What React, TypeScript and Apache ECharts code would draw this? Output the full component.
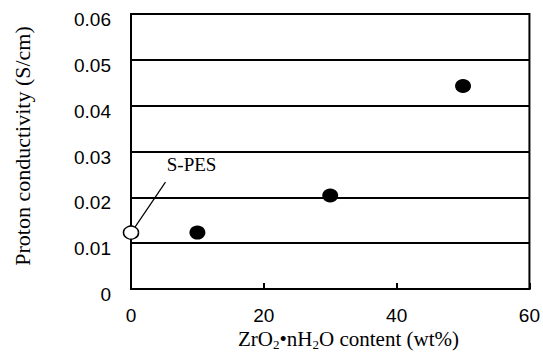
import React, { useEffect, useRef } from "react";
import * as echarts from "echarts";

const spesPoint: number[][] = [[0, 0.0123]];
const compositePoints: number[][] = [
  [10, 0.0123],
  [30, 0.0204],
  [50, 0.0443],
];
const leaderLine: number[][] = [
  [0.6, 0.0135],
  [5.19, 0.0233],
];
const labelPoint: number[][] = [[5.39, 0.0272]];
const labelText = "S-PES";
const yTicks = [0, 0.01, 0.02, 0.03, 0.04, 0.05, 0.06];
const xTicks = [0, 20, 40, 60];

export default function App() {
  const ref = useRef<HTMLDivElement>(null);
  useEffect(() => {
    if (!ref.current) return;
    const chart = echarts.init(ref.current, undefined, { renderer: "svg" });
    const serif = "'Liberation Serif', 'Times New Roman', serif";
    const sans = "'Liberation Sans', Arial, sans-serif";
    chart.setOption({
      animation: false,
      backgroundColor: "#fff",
      grid: {
        left: 131,
        top: 14,
        right: 11,
        bottom: 67,
        show: true,
        borderColor: "#000",
        borderWidth: 2,
      },
      xAxis: {
        type: "value",
        min: xTicks[0],
        max: xTicks[xTicks.length - 1],
        interval: 20,
        axisLine: { show: true, lineStyle: { color: "#000", width: 2 } },
        axisTick: { show: true, inside: true, length: 6, lineStyle: { color: "#000", width: 2 } },
        splitLine: { show: false },
        axisLabel: { color: "#000", fontFamily: sans, fontSize: 19, margin: 17 },
      },
      yAxis: {
        type: "value",
        min: yTicks[0],
        max: yTicks[yTicks.length - 1],
        interval: 0.01,
        name: "Proton conductivity (S/cm)",
        nameLocation: "middle",
        nameGap: 98,
        nameTextStyle: { color: "#000", fontFamily: serif, fontSize: 22, padding: [0, 0, 0, 11] },
        axisLine: { show: true, lineStyle: { color: "#000", width: 2 } },
        axisTick: { show: false },
        splitLine: { show: true, lineStyle: { color: "#000", width: 2 } },
        axisLabel: {
          color: "#000",
          fontFamily: sans,
          fontSize: 19,
          margin: 20,
          verticalAlign: "top",
          lineHeight: 11,
          formatter: (v: number) => (v === 0 ? "0" : v.toFixed(2)),
        },
      },
      graphic: [
        {
          type: "text",
          left: 238,
          top: 328,
          style: {
            text: "{a|ZrO}{s|2}{a|•nH}{s|2}{a|O content (wt%)}",
            rich: {
              a: { fontFamily: serif, fontSize: 21, fill: "#000", lineHeight: 24 },
              s: { fontFamily: serif, fontSize: 13, fill: "#000", lineHeight: 9, verticalAlign: "bottom" },
            },
          },
        },
      ],
      series: [
        {
          type: "line",
          data: leaderLine,
          symbol: "none",
          lineStyle: { color: "#000", width: 1.2, opacity: 1 },
          silent: true,
          z: 3,
        },
        {
          type: "scatter",
          data: labelPoint,
          symbolSize: 0,
          itemStyle: { opacity: 1 },
          label: {
            show: true,
            position: "right",
            distance: 0,
            formatter: () => labelText,
            color: "#000",
            opacity: 1,
            fontFamily: serif,
            fontSize: 19,
          },
        },
        {
          type: "scatter",
          data: compositePoints,
          symbol: "circle",
          symbolSize: [16, 14],
          itemStyle: { color: "#000", opacity: 1 },
          z: 4,
        },
        {
          type: "scatter",
          data: spesPoint,
          symbol: "circle",
          symbolSize: [15, 13],
          itemStyle: { color: "#fff", borderColor: "#000", borderWidth: 1.5, opacity: 1 },
          z: 5,
        },
      ],
    });
    return () => chart.dispose();
  }, []);
  return (
    <div
      ref={ref}
      style={{ position: "absolute", left: 0, top: 0, width: 543, height: 356 }}
    />
  );
}
